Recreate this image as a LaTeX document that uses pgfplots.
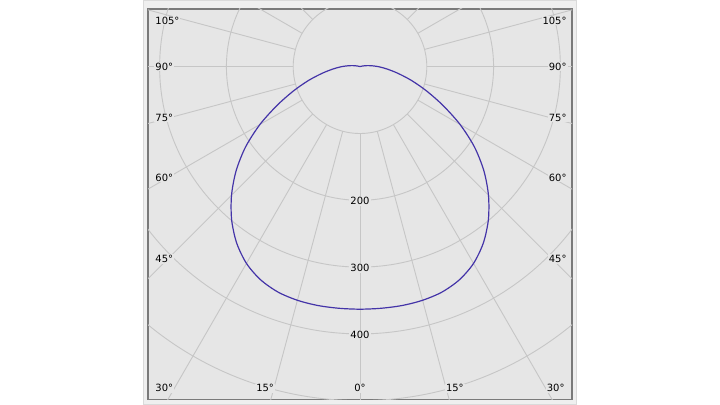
\documentclass[border=0pt]{standalone}
\usepackage{fontspec}
\setmainfont{DejaVu Sans}
\usepackage{pgfplots}
\pgfplotsset{compat=1.18}

\definecolor{bgcol}{HTML}{E6E6E6}
\definecolor{gridcol}{HTML}{C6C6C6}
\definecolor{framecol}{HTML}{7A7A7A}
\definecolor{panelcol}{HTML}{EFEFEF}
\definecolor{panelline}{HTML}{DADADA}
\definecolor{curvecol}{RGB}{68,52,168}
\definecolor{txtcol}{HTML}{333333}

\begin{document}
\begin{tikzpicture}
% page 720 x 405, axis box 424 x 390.3
\fill[white] (-148bp,-5.7bp) rectangle (572bp,399.3bp);
\fill[panelcol, draw=panelline, line width=0.6bp] (-4.5bp,-5.4bp) rectangle (428.5bp,399bp);
\begin{axis}[
    scale only axis,
    width=424bp,
    height=390.3bp,
    xmin=-317.4, xmax=317.4,
    ymin=-497.9, ymax=86.4,
    xtick=\empty, ytick=\empty,
    axis line style={draw=framecol, line width=1.2bp},
    axis background/.style={fill=bgcol},
    clip=true,
    every node/.style={font=\fontsize{8.8}{10}\selectfont, text=txtcol},
]
% grid: circles every 100 cd, rays every 15 deg from r=100
\draw[gridcol, line width=0.9bp] (axis cs:0,0) circle [radius=100];
\draw[gridcol, line width=0.9bp] (axis cs:0,0) circle [radius=200];
\draw[gridcol, line width=0.9bp] (axis cs:0,0) circle [radius=300];
\draw[gridcol, line width=0.9bp] (axis cs:0,0) circle [radius=400];
\draw[gridcol, line width=0.9bp] (axis cs:0,0) circle [radius=500];
\pgfplotsinvokeforeach{0,15,...,345}{
  \draw[gridcol, line width=0.9bp] (axis cs:{100*cos(#1)},{100*sin(#1)}) -- (axis cs:{800*cos(#1)},{800*sin(#1)});
}

% luminous intensity (cd), angle in polar form: 270 = nadir
\addplot[curvecol, line width=1.2bp, smooth, data cs=polar] coordinates {
  (90,0) (120,0.3) (150,0.8) (160,2) (165,4) (170,9) (175,17) (180,28)
  (185,41) (190,58) (195,80) (200,106) (205,137) (210,173) (215,209)
  (220,242) (225,272) (230,299) (235,322) (240,340) (245,352) (250,359)
  (255,362) (260,363) (265,363) (270,363)
  (275,363) (280,363) (285,362) (290,359) (295,352) (300,340) (305,322)
  (310,299) (315,272) (320,242) (325,209) (330,173) (335,137) (340,106)
  (345,80) (350,58) (355,41) (360,28) (365,17) (370,9) (375,4) (380,2)
  (390,0.8) (420,0.3) (450,0)
};

% radial labels
\node[fill=bgcol, inner sep=1bp] at (axis cs:0,-201) {200};
\node[fill=bgcol, inner sep=1bp] at (axis cs:0,-301) {300};
\node[fill=bgcol, inner sep=1bp] at (axis cs:0,-401) {400};

% angle labels, left side
\node[fill=bgcol, inner sep=1bp, anchor=west] at (axis cs:-308,69.2) {105°};
\node[fill=bgcol, inner sep=1bp, anchor=west] at (axis cs:-308,0) {90°};
\node[fill=bgcol, inner sep=1bp, anchor=west] at (axis cs:-308,-76) {75°};
\node[fill=bgcol, inner sep=1bp, anchor=west] at (axis cs:-308,-165.9) {60°};
\node[fill=bgcol, inner sep=1bp, anchor=west] at (axis cs:-308,-287.9) {45°};
% right side
\node[fill=bgcol, inner sep=1bp, anchor=east] at (axis cs:311,69.2) {105°};
\node[fill=bgcol, inner sep=1bp, anchor=east] at (axis cs:311,0) {90°};
\node[fill=bgcol, inner sep=1bp, anchor=east] at (axis cs:311,-76) {75°};
\node[fill=bgcol, inner sep=1bp, anchor=east] at (axis cs:311,-165.9) {60°};
\node[fill=bgcol, inner sep=1bp, anchor=east] at (axis cs:311,-287.9) {45°};
% bottom row
\node[fill=bgcol, inner sep=1bp] at (axis cs:-293,-481.4) {30°};
\node[fill=bgcol, inner sep=1bp] at (axis cs:-142,-481.4) {15°};
\node[fill=bgcol, inner sep=1bp] at (axis cs:0,-481.4) {0°};
\node[fill=bgcol, inner sep=1bp] at (axis cs:142,-481.4) {15°};
\node[fill=bgcol, inner sep=1bp] at (axis cs:293,-481.4) {30°};
\end{axis}
\end{tikzpicture}
\end{document}
